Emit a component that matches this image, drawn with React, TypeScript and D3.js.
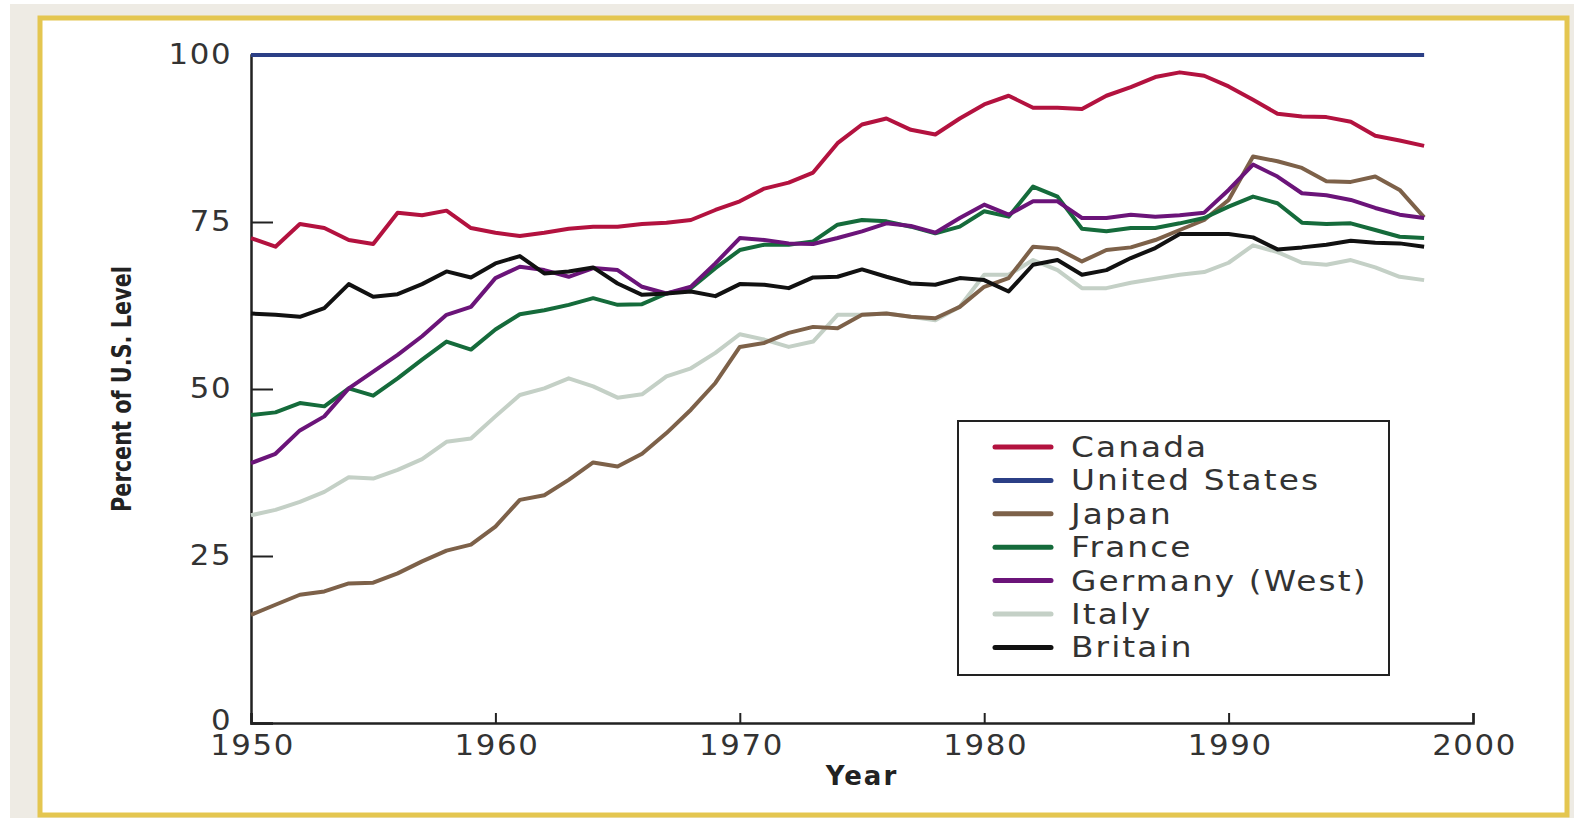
import { useEffect, useRef } from 'react';
import * as d3 from 'd3';

// years 1950..1998
const years = d3.range(1950, 1999);

const canada = [72.6, 71.3, 74.7, 74.1, 72.3, 71.7, 76.4, 76.0, 76.7, 74.1, 73.4, 72.9, 73.4, 74.0, 74.3, 74.3, 74.7, 74.9, 75.3, 76.8, 78.1, 80.0, 80.9, 82.4, 86.8, 89.6, 90.5, 88.8, 88.1, 90.5, 92.6, 93.9, 92.1, 92.1, 91.9, 93.9, 95.2, 96.7, 97.4, 96.9, 95.3, 93.3, 91.2, 90.8, 90.7, 90.0, 87.9, 87.2, 86.4];
const unitedStates = years.map(() => 100);
const japan = [16.2, 17.7, 19.2, 19.7, 20.9, 21.0, 22.4, 24.2, 25.8, 26.7, 29.4, 33.4, 34.1, 36.4, 39.0, 38.4, 40.3, 43.4, 46.9, 50.9, 56.3, 56.9, 58.4, 59.3, 59.1, 61.1, 61.3, 60.8, 60.6, 62.3, 65.3, 66.6, 71.3, 71.0, 69.1, 70.8, 71.2, 72.3, 73.8, 75.3, 78.3, 84.8, 84.1, 83.1, 81.1, 81.0, 81.8, 79.8, 75.7];
const france = [46.1, 46.5, 47.9, 47.4, 50.1, 49.0, 51.6, 54.4, 57.1, 55.9, 58.9, 61.2, 61.8, 62.6, 63.6, 62.6, 62.7, 64.3, 65.1, 68.1, 70.8, 71.6, 71.6, 72.1, 74.6, 75.3, 75.1, 74.3, 73.3, 74.3, 76.6, 75.8, 80.3, 78.8, 74.0, 73.6, 74.1, 74.1, 74.8, 75.6, 77.3, 78.8, 77.8, 74.9, 74.7, 74.8, 73.8, 72.8, 72.6];
const germany = [38.9, 40.3, 43.8, 45.9, 50.1, 52.6, 55.1, 57.9, 61.1, 62.3, 66.6, 68.3, 67.8, 66.8, 68.1, 67.8, 65.3, 64.3, 65.3, 68.8, 72.6, 72.3, 71.8, 71.7, 72.6, 73.6, 74.8, 74.4, 73.4, 75.6, 77.6, 76.1, 78.1, 78.1, 75.6, 75.6, 76.1, 75.8, 76.0, 76.4, 79.8, 83.6, 81.8, 79.3, 79.0, 78.3, 77.1, 76.1, 75.6];
const italy = [31.1, 31.9, 33.1, 34.6, 36.8, 36.6, 37.9, 39.5, 42.1, 42.6, 45.9, 49.1, 50.1, 51.6, 50.4, 48.7, 49.2, 51.9, 53.1, 55.4, 58.2, 57.4, 56.3, 57.1, 61.1, 61.1, 61.3, 60.8, 60.3, 62.3, 67.1, 67.1, 69.3, 67.8, 65.1, 65.1, 65.9, 66.5, 67.1, 67.5, 68.9, 71.5, 70.5, 68.9, 68.6, 69.3, 68.2, 66.8, 66.3];
const britain = [61.3, 61.1, 60.8, 62.1, 65.7, 63.8, 64.2, 65.7, 67.6, 66.7, 68.8, 69.9, 67.3, 67.6, 68.2, 65.8, 64.1, 64.3, 64.6, 63.9, 65.7, 65.6, 65.1, 66.7, 66.8, 67.9, 66.8, 65.8, 65.6, 66.6, 66.3, 64.6, 68.6, 69.3, 67.1, 67.8, 69.6, 71.1, 73.2, 73.2, 73.2, 72.7, 70.9, 71.2, 71.6, 72.2, 71.9, 71.8, 71.3];

const seriesNames = ['Canada', 'United States', 'Japan', 'France', 'Germany (West)', 'Italy', 'Britain'];
const seriesValues = [canada, unitedStates, japan, france, germany, italy, britain];
const seriesColors = ['#b3123f', '#2b3f86', '#7d6149', '#156b3b', '#6b1479', '#c4d0c6', '#111111'];
// drawing order: light lines first so darker ones sit on top
const drawOrder = [5, 2, 3, 4, 6, 0, 1];

const yTicks = [0, 25, 50, 75, 100];
const xTicks = [1950, 1960, 1970, 1980, 1990, 2000];

const W = 1574, H = 818;
const FONT = '"DejaVu Sans", sans-serif';

export default function App() {
  const ref = useRef<SVGSVGElement>(null);

  useEffect(() => {
    const svg = d3.select(ref.current);
    svg.selectAll('*').remove();

    svg.append('rect').attr('x', 0).attr('y', 0).attr('width', W).attr('height', H).attr('fill', '#ffffff');
    svg.append('rect').attr('x', 10).attr('y', 4).attr('width', W - 10).attr('height', H - 4).attr('fill', '#eeebe4');
    svg.append('rect')
      .attr('x', 40).attr('y', 18).attr('width', 1527).attr('height', 797)
      .attr('fill', '#ffffff').attr('stroke', '#e4c650').attr('stroke-width', 5);

    const x = d3.scaleLinear().domain([1950, 2000]).range([251, 1473]);
    const y = d3.scaleLinear().domain([0, 100]).range([723, 55]);

    // y axis
    const gy = svg.append('g').attr('transform', `translate(${x(1950)},0)`)
      .call(d3.axisLeft(y).tickValues(yTicks).tickSize(-22).tickPadding(17).tickFormat(d3.format('d')));
    gy.select('.domain').attr('stroke', '#222').attr('stroke-width', 2.5);
    gy.selectAll('.tick line').attr('stroke', '#222').attr('stroke-width', 2);
    gy.selectAll('.tick text').attr('font-family', FONT).attr('font-size', 28).attr('fill', '#333')
      .attr('letter-spacing', 1.5).attr('transform', 'scale(1.1,1)')
      .attr('dy', (d: any) => (d === 0 ? '0.22em' : '0.32em'));

    // x axis
    const gx = svg.append('g').attr('transform', `translate(0,${y(0)})`)
      .call(d3.axisBottom(x).tickValues(xTicks).tickSize(-10).tickPadding(12).tickFormat(d3.format('d')));
    gx.select('.domain').attr('stroke', '#222').attr('stroke-width', 2.5);
    gx.selectAll('.tick line').attr('stroke', '#222').attr('stroke-width', 2);
    gx.selectAll('.tick text').attr('font-family', FONT).attr('font-size', 28).attr('fill', '#333')
      .attr('letter-spacing', 1.5).attr('transform', 'scale(1.1,1)').attr('dx', 1);

    // lines
    const line = d3.line<number>()
      .x((_, i) => x(years[i]))
      .y(d => y(d));
    drawOrder.forEach(k => {
      svg.append('path')
        .datum(seriesValues[k])
        .attr('d', line)
        .attr('fill', 'none')
        .attr('stroke', seriesColors[k])
        .attr('stroke-width', 4)
        .attr('stroke-linejoin', 'round');
    });

    // axis titles
    svg.append('text')
      .attr('x', 862).attr('y', 785)
      .attr('text-anchor', 'middle')
      .attr('font-family', FONT).attr('font-weight', 'bold').attr('font-size', 26).attr('fill', '#222')
      .attr('letter-spacing', 2)
      .text('Year');
    svg.append('text')
      .attr('transform', `translate(131,${389}) rotate(-90)`)
      .attr('text-anchor', 'middle')
      .attr('font-family', FONT)
      .attr('font-weight', 'bold').attr('font-size', 26).attr('fill', '#222')
      .attr('textLength', 246).attr('lengthAdjust', 'spacingAndGlyphs')
      .text('Percent of U.S. Level');

    // legend
    const lg = svg.append('g');
    lg.append('rect').attr('x', 958).attr('y', 421).attr('width', 431).attr('height', 254)
      .attr('fill', '#fff').attr('stroke', '#222').attr('stroke-width', 2);
    seriesNames.forEach((name, i) => {
      const cy = 447 + i * 33.4;
      lg.append('line').attr('x1', 995).attr('x2', 1051).attr('y1', cy).attr('y2', cy)
        .attr('stroke', seriesColors[i]).attr('stroke-width', 5).attr('stroke-linecap', 'round');
      lg.append('text').attr('transform', `translate(1071,${cy}) scale(1.17,1)`).attr('dy', '0.36em')
        .attr('font-family', FONT).attr('font-size', 28).attr('fill', '#333').attr('letter-spacing', 1.8)
        .text(name);
    });
  }, []);

  return (
    <svg ref={ref} width={W} height={H}
      style={{ position: 'absolute', left: 0, top: 0, display: 'block' }} />
  );
}
